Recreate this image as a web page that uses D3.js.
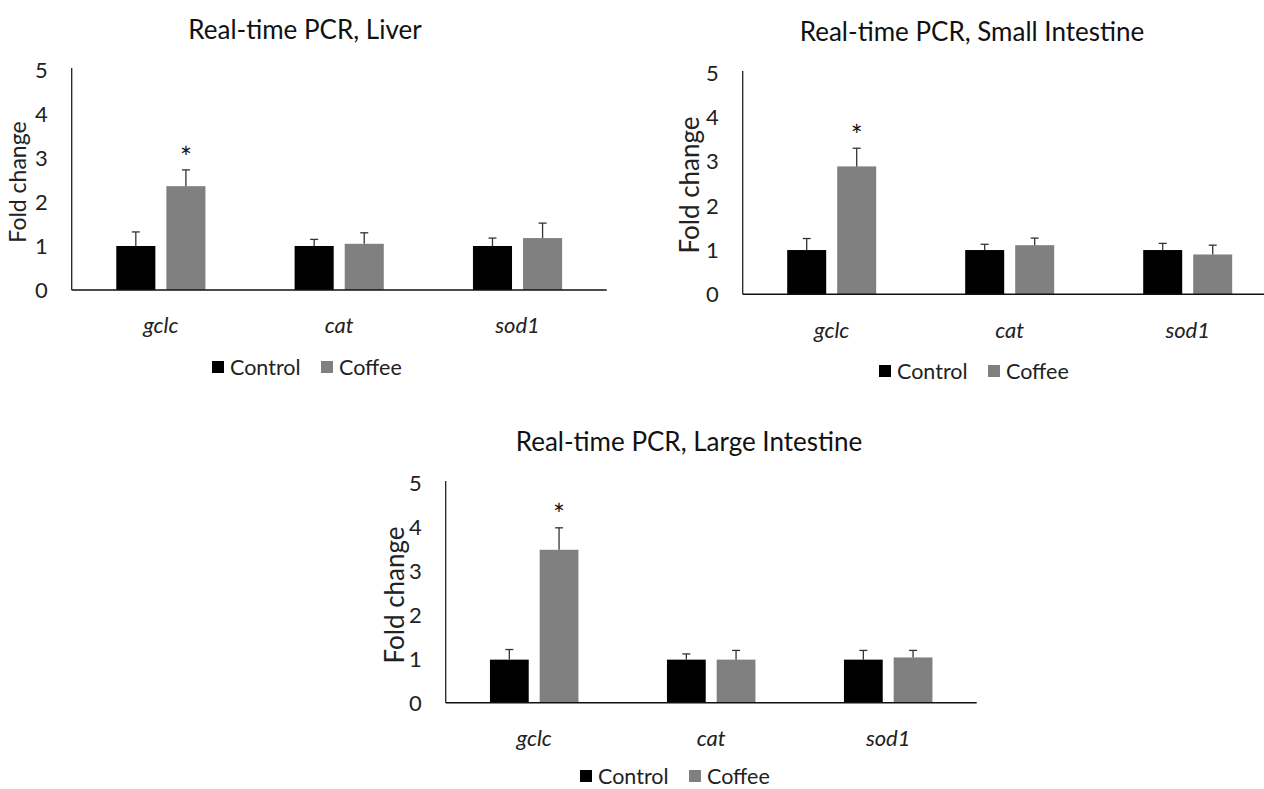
<!DOCTYPE html>
<html lang="en">
<head>
<meta charset="UTF-8">
<title>Real-time PCR</title>
<script src="https://cdnjs.cloudflare.com/ajax/libs/d3/7.8.5/d3.min.js"></script>
<style>
    body { margin: 0; background: #fff; }
    svg { display: block; font-family: Lato, "Open Sans", sans-serif; }
</style>
</head>
<body>
<svg width="1264" height="789"></svg>
<script>
    // data
    const genes = ["gclc", "cat", "sod1"];
    const groups = ["Control", "Coffee"];
    const yTicks = [0, 1, 2, 3, 4, 5];

    const liverControl = [1.0, 1.0, 1.0];
    const liverControlErr = [0.32, 0.15, 0.18];
    const liverCoffee = [2.36, 1.05, 1.18];
    const liverCoffeeErr = [0.37, 0.25, 0.34];
    const liverStar = [true, false, false];

    const smallControl = [1.0, 1.0, 1.0];
    const smallControlErr = [0.26, 0.13, 0.15];
    const smallCoffee = [2.89, 1.11, 0.90];
    const smallCoffeeErr = [0.41, 0.16, 0.21];
    const smallStar = [true, false, false];

    const largeControl = [0.98, 0.98, 0.98];
    const largeControlErr = [0.23, 0.13, 0.21];
    const largeCoffee = [3.48, 0.98, 1.03];
    const largeCoffeeErr = [0.50, 0.21, 0.16];
    const largeStar = [true, false, false];

    const colors = { Control: "#000000", Coffee: "#808080" };

    const svg = d3.select("svg");

    function drawPanel(p) {
        const g = svg.append("g");

        const x = d3.scaleBand().domain(genes).range([p.x0, p.x1]);
        const xs = d3.scaleBand().domain(groups).range([0, x.bandwidth()])
            .paddingInner(0.22).paddingOuter(0.89);
        const y = d3.scaleLinear().domain([0, 5]).range([p.yBase, p.yTop]);

        const rows = [];
        genes.forEach((gene, i) => {
            rows.push({ gene, grp: "Control", v: p.control[i], e: p.controlErr[i], star: false });
            rows.push({ gene, grp: "Coffee", v: p.coffee[i], e: p.coffeeErr[i], star: p.star[i] });
        });

        // title
        g.append("text")
            .attr("x", p.titleX).attr("y", p.titleY)
            .attr("text-anchor", "middle")
            .attr("font-size", 26).attr("fill", "#111")
            .text(p.title);

        // y tick labels
        g.selectAll(".ytick").data(yTicks).enter().append("text")
            .attr("x", p.x0 - 24).attr("y", d => y(d))
            .attr("dy", "0.36em").attr("text-anchor", "end")
            .attr("font-size", 22).attr("fill", "#222")
            .text(d => d);

        // y title
        g.append("text")
            .attr("transform", `translate(${p.yTitleX},${p.yTitleY}) rotate(-90)`)
            .attr("text-anchor", "middle").attr("dy", "0.35em")
            .attr("font-size", p.yTitleSize).attr("fill", "#222")
            .text("Fold change");

        // bars
        g.selectAll(".bar").data(rows).enter().append("rect")
            .attr("x", d => x(d.gene) + xs(d.grp))
            .attr("y", d => y(d.v))
            .attr("width", xs.bandwidth())
            .attr("height", d => y(0) - y(d.v))
            .attr("fill", d => colors[d.grp]);

        // error bars (upper only)
        const eb = g.selectAll(".err").data(rows).enter().append("g")
            .attr("stroke", "#333").attr("stroke-width", 1.3);
        eb.append("line")
            .attr("x1", d => x(d.gene) + xs(d.grp) + xs.bandwidth() / 2)
            .attr("x2", d => x(d.gene) + xs(d.grp) + xs.bandwidth() / 2)
            .attr("y1", d => y(d.v)).attr("y2", d => y(d.v + d.e));
        eb.append("line")
            .attr("x1", d => x(d.gene) + xs(d.grp) + xs.bandwidth() / 2 - 4)
            .attr("x2", d => x(d.gene) + xs(d.grp) + xs.bandwidth() / 2 + 4)
            .attr("y1", d => y(d.v + d.e)).attr("y2", d => y(d.v + d.e));

        // significance asterisks
        g.selectAll(".star").data(rows.filter(d => d.star)).enter().append("text")
            .attr("x", d => x(d.gene) + xs(d.grp) + xs.bandwidth() / 2)
            .attr("y", d => y(d.v + d.e) - 18)
            .attr("dy", "0.56em").attr("text-anchor", "middle")
            .attr("font-size", 28).attr("fill", "#111")
            .text("*");

        // axes lines
        g.append("line")
            .attr("x1", p.x0).attr("x2", p.x0)
            .attr("y1", y(5) - 2).attr("y2", y(0))
            .attr("stroke", "#222").attr("stroke-width", 1.3);
        g.append("line")
            .attr("x1", p.x0).attr("x2", p.x1)
            .attr("y1", y(0)).attr("y2", y(0))
            .attr("stroke", "#111").attr("stroke-width", 1.5);

        // category labels
        g.selectAll(".cat").data(genes).enter().append("text")
            .attr("x", d => x(d) + x.bandwidth() / 2)
            .attr("y", p.catY).attr("dy", "0.35em")
            .attr("text-anchor", "middle").attr("font-style", "italic")
            .attr("font-size", 22).attr("fill", "#222")
            .text(d => d);

        // legend
        const lg = g.append("g").attr("transform", `translate(${p.legX},${p.legY})`);
        const offsets = [0, 109];
        groups.forEach((grp, i) => {
            lg.append("rect")
                .attr("x", offsets[i]).attr("y", -6)
                .attr("width", 12).attr("height", 12)
                .attr("fill", colors[grp]);
            lg.append("text")
                .attr("x", offsets[i] + 18).attr("y", 0).attr("dy", "0.36em")
                .attr("font-size", 21.5).attr("fill", "#222")
                .text(grp);
        });
    }

    drawPanel({
        title: "Real-time PCR, Liver", titleX: 305, titleY: 39,
        x0: 71.7, x1: 606.7, yBase: 290, yTop: 70,
        yTitleX: 18, yTitleY: 182, yTitleSize: 23,
        catY: 325, legX: 212, legY: 367,
        control: liverControl, controlErr: liverControlErr,
        coffee: liverCoffee, coffeeErr: liverCoffeeErr, star: liverStar
    });

    drawPanel({
        title: "Real-time PCR, Small Intestine", titleX: 972, titleY: 41,
        x0: 742.7, x1: 1276.7, yBase: 294.3, yTop: 73,
        yTitleX: 690, yTitleY: 185, yTitleSize: 26,
        catY: 330, legX: 879, legY: 371,
        control: smallControl, controlErr: smallControlErr,
        coffee: smallCoffee, coffeeErr: smallCoffeeErr, star: smallStar
    });

    drawPanel({
        title: "Real-time PCR, Large Intestine", titleX: 689, titleY: 451,
        x0: 445.7, x1: 976.7, yBase: 702.7, yTop: 483,
        yTitleX: 395, yTitleY: 595, yTitleSize: 26,
        catY: 738, legX: 580, legY: 776,
        control: largeControl, controlErr: largeControlErr,
        coffee: largeCoffee, coffeeErr: largeCoffeeErr, star: largeStar
    });
</script>
</body>
</html>
